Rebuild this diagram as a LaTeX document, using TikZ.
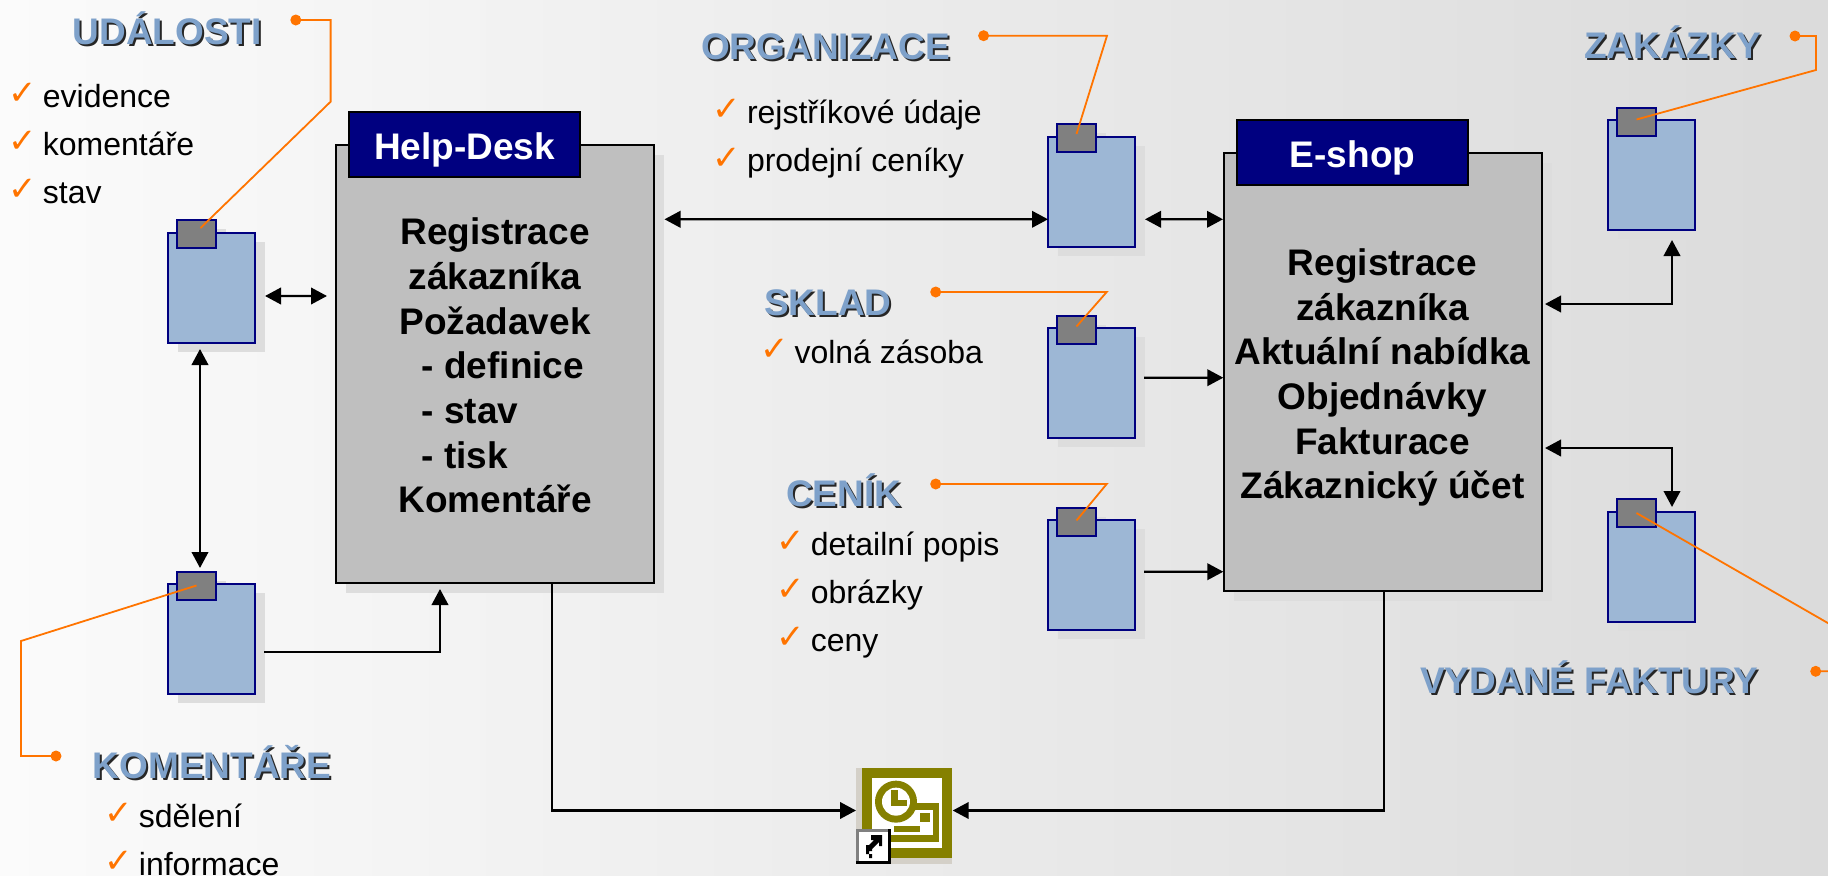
\documentclass[tikz,border=0pt]{standalone}
\usepackage{fontspec}
\setmainfont{Liberation Sans}
\newfontfamily\djfont{DejaVu Sans}
\usetikzlibrary{arrows.meta,calc}
\definecolor{orangeline}{HTML}{FF7400}
\definecolor{navybox}{HTML}{000080}
\definecolor{docblue}{HTML}{9DB7D5}
\definecolor{titleblue}{HTML}{7EA1CA}
\definecolor{tabgrey}{HTML}{808080}
\definecolor{maingrey}{HTML}{BFBFBF}
\definecolor{shadowc}{HTML}{DDDDDD}
\definecolor{olive}{HTML}{858000}
\definecolor{iconbase}{HTML}{D4D0C8}
\definecolor{bgleft}{HTML}{FBFBFB}
\definecolor{bgright}{HTML}{DBDBDB}
\tikzset{
  mainbox/.style={draw=black,line width=2bp,fill=maingrey,minimum width=318bp,minimum height=438bp,inner sep=0pt,outer sep=0pt},
  headbox/.style={draw=black,line width=2bp,fill=navybox,text=white,font=\fontsize{37.14}{44}\selectfont\bfseries,minimum width=231bp,text height=47.3bp,text depth=17.7bp,inner sep=0pt,outer sep=0pt},
  docbox/.style={draw=navybox,line width=2bp,fill=docblue,minimum width=87bp,minimum height=110bp,inner sep=0pt,outer sep=0pt},
  tabbox/.style={draw=navybox,line width=2bp,fill=tabgrey,minimum width=39bp,minimum height=28bp,inner sep=0pt,outer sep=0pt},
  bodytext/.style={font=\fontsize{37.14}{44.77}\selectfont\bfseries,align=center,inner sep=0pt,anchor=base},
  titletext/.style={font=\fontsize{37.14}{44}\selectfont\bfseries,inner sep=0pt,anchor=base west},
  listtext/.style={font=\fontsize{32.12}{38}\selectfont,inner sep=0pt,anchor=base west},
  checktext/.style={font=\djfont\fontsize{34}{34}\selectfont,text=orangeline,inner sep=0pt,anchor=base west},
  link/.style={draw=black,line width=2.3bp,-{Triangle[length=16bp,width=16.5bp]}},
  duplex/.style={draw=black,line width=2.3bp,{Triangle[length=16bp,width=16.5bp]}-{Triangle[length=16bp,width=16.5bp]}},
  callout/.style={draw=orangeline,line width=1.8bp,line join=miter},
  calldot/.style={circle,fill=orangeline,minimum size=11bp,inner sep=0pt},
}
\newcommand{\docat}[3]{%
  \begin{scope}[shift={(#2,#3)}]
    \fill[shadowc] (-33.5,-46) rectangle (53.5,64);
    \fill[shadowc] (-24,-58.5) rectangle (15,-30.5);
    \node[docbox] (#1) at (0,0) {};
    \node[tabbox] (#1t) at (-14.5,-53.5) {};
  \end{scope}}
\newcommand{\titleat}[4]{%
  \node[titletext,text=black!85] (#1s) at (#2+2,#3+1) {#4};
  \node[titletext,text=titleblue] (#1) at (#2,#3-1) {#4};}
\newcommand{\itemat}[4]{%
  \node[checktext] (#1c) at (#2-34.5,#3-2.5) {✓};
  \node[listtext] (#1) at (#2,#3) {#4};}
\begin{document}
\begin{tikzpicture}[x=1bp,y=-1bp]
\useasboundingbox (0,0) rectangle (1828,876);
\clip (0,0) rectangle (1828,876);
\shade[left color=bgleft,right color=bgright] (0,0) rectangle (1828,876);

% main boxes
\fill[shadowc] (346,155) rectangle (664,593);
\fill[shadowc] (1234,163) rectangle (1552,601);
\node[mainbox] (hd) at (495,364) {};
\node[mainbox] (es) at (1383,372) {};
\node[headbox] (hdt) at (464.5,144.5) {Help-Desk};
\node[headbox] (est) at (1352.5,152.5) {E-shop};

\node[bodytext] (hdb) at (495,512.6) {Registrace\\zákazníka\\Požadavek\\\makebox[146.6bp][l]{- definice}\\\makebox[146.6bp][l]{- stav}\\\makebox[146.6bp][l]{- tisk}\\Komentáře};
\node[bodytext] (esb) at (1382.5,498.8) {Registrace\\zákazníka\\Aktuální nabídka\\Objednávky\\Fakturace\\Zákaznický účet};

% documents
\docat{dua}{211}{287.5}
\docat{dko}{211}{639}
\docat{dor}{1091}{191.5}
\docat{dsk}{1091}{383}
\docat{dce}{1091}{575}
\docat{dza}{1651}{175}
\docat{dvf}{1651}{566.5}

% icon
\node[minimum width=96bp,minimum height=96bp,inner sep=0pt,outer sep=0pt] (icon) at (904,816) {};
\begin{scope}[shift={(760,720)},x=0.33333bp,y=-0.33333bp]
  \fill[iconbase] (288,144) rectangle (576,432);
  \fill[olive] (306,144) rectangle (576,414);
  \fill[white] (336,174) rectangle (546,384);
  \fill[olive] (393,250) rectangle (537,365);
  \fill[white] (393,270) rectangle (519,345);
  \fill[olive] (480,279) rectangle (510,306);
  \fill[olive] (402,318) rectangle (480,336);
  \fill[olive] (408,245) circle[radius=21bp];
  \fill[white] (408,245) circle[radius=14bp];
  \fill[olive] (393,210) rectangle (414,258);
  \fill[olive] (393,240) rectangle (441,258);
  \fill[black] (288,327) rectangle (393,432);
  \fill[tabgrey] (288,327) rectangle (384,423);
  \fill[white] (297,336) rectangle (384,423);
  \fill[black] (333,345) -- (366,345) -- (366,378) -- (357,378) -- (357,366) -- (345,378) -- (336,387) -- (336,393) -- (327,393) -- (327,402) -- (336,402) -- (336,414) -- (327,414) -- (327,402) -- (318,402) -- (318,375) -- (327,375) -- (342,360) -- (333,360) -- cycle;
\end{scope}

% connectors
\draw[duplex] ([xshift=10.5bp,yshift=-8.5bp]dua.east) -- ([xshift=-9bp,yshift=68bp]hd.west);
\draw[duplex] ([xshift=-11bp,yshift=-6.5bp]dua.south) -- ([xshift=-11bp,yshift=16bp]dko.north);
\draw[link] ([xshift=9.5bp,yshift=-12.7bp]dko.east) -| ([xshift=-55bp,yshift=-6bp]hd.south);
\draw[duplex] ([xshift=10.5bp,yshift=144.7bp]hd.east) -- ([xshift=0.5bp,yshift=-27.8bp]dor.west);
\draw[duplex] ([xshift=10.5bp,yshift=-27.8bp]dor.east) -- ([xshift=-1bp,yshift=152.7bp]es.west);
\draw[link] ([xshift=9.5bp,yshift=5.3bp]dsk.east) -- ([xshift=-0.7bp,yshift=-5.7bp]es.west);
\draw[link] ([xshift=9.5bp,yshift=3.3bp]dce.east) -- ([xshift=-0.7bp,yshift=-199.7bp]es.west);
\draw[duplex] ([xshift=3bp,yshift=68bp]es.east) -| ([xshift=21bp,yshift=-10bp]dza.south);
\draw[duplex] ([xshift=3bp,yshift=-76bp]es.east) -| ([xshift=21bp,yshift=4.5bp]dvf.north);
\draw[link] ([xshift=57bp]hd.south) |- ([yshift=5.5bp]icon.west);
\draw[link] ([xshift=1bp]es.south) |- ([xshift=0.7bp,yshift=5.5bp]icon.east);

% texts
\titleat{tud}{72.4}{45}{UDÁLOSTI}
\itemat{lua}{42.7}{107.3}{evidence}
\itemat{lub}{42.7}{155.3}{komentáře}
\itemat{luc}{42.7}{203.3}{stav}
\titleat{tor}{701}{60}{ORGANIZACE}
\itemat{loa}{746.8}{123.3}{rejstříkové údaje}
\itemat{lob}{746.8}{171.7}{prodejní ceníky}
\titleat{tsk}{764}{316}{SKLAD}
\itemat{lsa}{794.3}{363.3}{volná zásoba}
\titleat{tce}{786}{507.7}{CENÍK}
\itemat{lca}{810.7}{555}{detailní popis}
\itemat{lcb}{810.7}{603.3}{obrázky}
\itemat{lcc}{810.7}{651}{ceny}
\titleat{tza}{1584}{59}{ZAKÁZKY}
\titleat{tvf}{1420}{694.5}{VYDANÉ FAKTURY}
\titleat{tko}{92.7}{779}{KOMENTÁŘE}
\itemat{lka}{138.7}{827}{sdělení}
\itemat{lkb}{138.7}{875}{informace}

% callouts
\node[calldot] (oud) at (295.8,20) {};
\coordinate (oud1) at (330.6,20);
\coordinate (oud2) at (330.6,101.7);
\draw[callout] (oud.center) -- (oud1) -- (oud2) -- ([xshift=4bp,yshift=6bp]duat.center);
\node[calldot] (oko) at (56,756) {};
\coordinate (oko1) at (21,756);
\coordinate (oko2) at (21,641);
\draw[callout] (oko.center) -- (oko1) -- (oko2) -- (dkot.center);
\node[calldot] (oor) at (983.6,35.7) {};
\coordinate (oor1) at (1107,35.7);
\draw[callout] (oor.center) -- (oor1) -- ([yshift=4bp]dort.center);
\node[calldot] (osk) at (935.7,292) {};
\coordinate (osk1) at (1106.7,292);
\draw[callout] (osk.center) -- (osk1) -- ([yshift=3bp]dskt.center);
\node[calldot] (oce) at (935.7,484) {};
\coordinate (oce1) at (1106.7,484);
\draw[callout] (oce.center) -- (oce1) -- ([yshift=1bp]dcet.center);
\node[calldot] (oza) at (1795,36) {};
\coordinate (oza1) at (1816,36);
\coordinate (oza2) at (1816,70);
\draw[callout] (oza.center) -- (oza1) -- (oza2) -- ([yshift=2bp]dzat.center);
\node[calldot] (ovf) at (1815.7,671.3) {};
\coordinate (ovf1) at (1840,671.3);
\coordinate (ovf2) at (1840,630);
\draw[callout] (ovf.center) -- (ovf1) -- (ovf2) -- (dvft.center);
\end{tikzpicture}
\end{document}
